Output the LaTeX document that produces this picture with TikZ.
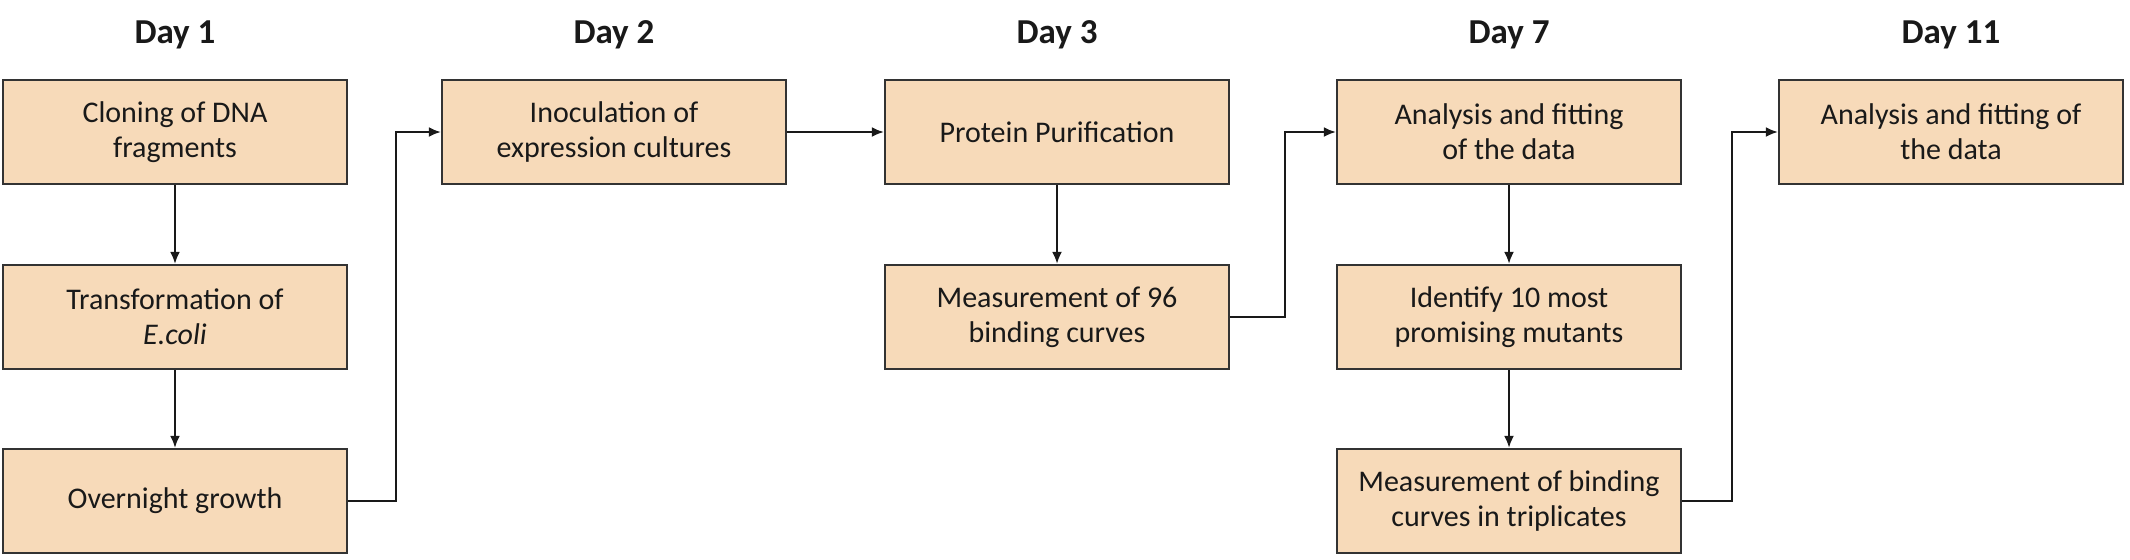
\documentclass[tikz,border=0pt]{standalone}
\usepackage{fontspec}
\setmainfont{Carlito}
\definecolor{boxfill}{HTML}{F7DAB9}
\definecolor{boxline}{HTML}{333333}
\tikzset{
  stepbox/.style={draw=boxline,fill=boxfill,line width=1.1pt,minimum width=172pt,minimum height=52pt,align=center,font=\fontsize{15}{17.5}\selectfont,text=black!90},
  daylabel/.style={font=\fontsize{17.5}{20}\selectfont\bfseries,text=black!90},
  link/.style={-{Latex[length=6pt,width=5pt]},line width=1.1pt,draw=black!90}
}
\usetikzlibrary{arrows.meta}
\begin{document}
\begin{tikzpicture}[x=0.5pt,y=-0.5pt]
\useasboundingbox (0,0) rectangle (2130,559);
\node[daylabel] (L1) at (175,35) {Day 1};
\node[daylabel] (L2) at (614,35) {Day 2};
\node[daylabel] (L3) at (1057,35) {Day 3};
\node[daylabel] (L4) at (1509,35) {Day 7};
\node[daylabel] (L5) at (1951,35) {Day 11};
\node[stepbox] (A1) at (175,132) {Cloning of DNA\\fragments};
\node[stepbox] (A2) at (175,317) {Transformation of\\\textit{E.coli}};
\node[stepbox] (A3) at (175,501) {Overnight growth};
\node[stepbox] (B1) at (614,132) {Inoculation of\\expression cultures};
\node[stepbox] (C1) at (1057,132) {Protein Purification};
\node[stepbox] (C2) at (1057,317) {Measurement of 96\\binding curves};
\node[stepbox] (D1) at (1509,132) {Analysis and fitting\\of the data};
\node[stepbox] (D2) at (1509,317) {Identify 10 most\\promising mutants};
\node[stepbox] (D3) at (1509,501) {Measurement of binding\\curves in triplicates};
\node[stepbox] (E1) at (1951,132) {Analysis and fitting of\\the data};
\draw[link] (A1) -- (A2);
\draw[link] (A2) -- (A3);
\draw[link] (A3.east) -- ++(48,0) |- (B1.west);
\draw[link] (B1) -- (C1);
\draw[link] (C1) -- (C2);
\draw[link] (C2.east) -- ++(55,0) |- (D1.west);
\draw[link] (D1) -- (D2);
\draw[link] (D2) -- (D3);
\draw[link] (D3.east) -- ++(50,0) |- (E1.west);
\end{tikzpicture}
\end{document}
